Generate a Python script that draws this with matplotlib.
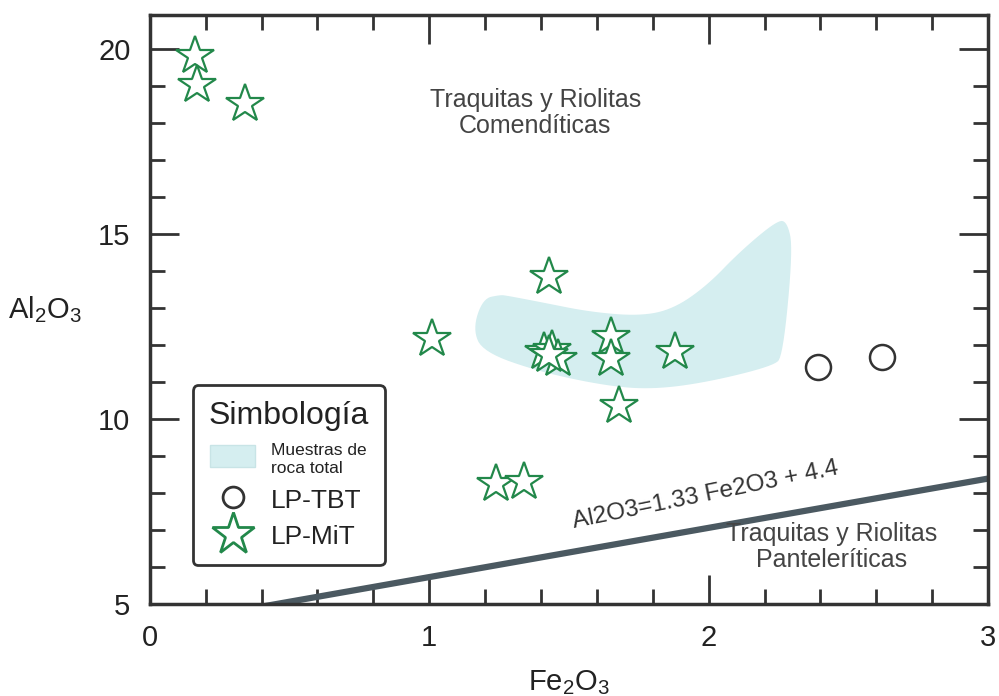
import numpy as np
import matplotlib
matplotlib.use("Agg")
import matplotlib.pyplot as plt
from matplotlib.patches import Patch, Polygon
from matplotlib.lines import Line2D
from matplotlib.ticker import MultipleLocator

plt.rcParams['font.family'] = ['Liberation Sans', 'DejaVu Sans']
plt.rcParams['mathtext.fontset'] = 'custom'
plt.rcParams['mathtext.rm'] = 'Liberation Sans'
plt.rcParams['mathtext.it'] = 'Liberation Sans'

# LP-MiT samples (stars)
mit_fe = [0.16, 0.17, 0.34, 1.01, 1.43, 1.41, 1.44, 1.46, 1.43,
          1.65, 1.65, 1.88, 1.68, 1.24, 1.34]
mit_al = [19.81, 19.02, 18.51, 12.16, 13.84, 11.81, 11.86, 11.62, 11.72,
          12.21, 11.62, 11.80, 10.35, 8.25, 8.31]

# LP-TBT samples (circles)
tbt_fe = [2.39, 2.62]
tbt_al = [11.40, 11.67]

# outline of the whole-rock field
field_fe = [1.156, 1.192, 1.253, 1.278, 1.396, 1.575, 1.754, 1.873, 1.994, 2.112,
            2.245, 2.281, 2.302, 2.266, 2.231, 1.994, 1.801, 1.636, 1.396, 1.192]
field_al = [12.43, 13.25, 13.35, 13.33, 13.16, 12.89, 12.78, 12.97, 13.60, 14.52,
            15.36, 15.33, 14.60, 11.70, 11.43, 10.99, 10.80, 10.89, 11.27, 11.81]

# discrimination line Al2O3 = 1.33 Fe2O3 + 4.4
slope, intercept = 1.33, 4.4

star_green = '#22884a'
dark = '#333333'
field_col = '#d5eef0'


def chaikin(pts, n=3):
    # corner-cutting to round off a closed outline
    for _ in range(n):
        nxt = np.roll(pts, -1, axis=0)
        q = 0.75 * pts + 0.25 * nxt
        r = 0.25 * pts + 0.75 * nxt
        pts = np.empty((2 * len(q), 2))
        pts[0::2] = q
        pts[1::2] = r
    return pts


fig = plt.figure(figsize=(9.99, 6.96), dpi=100)
ax = fig.add_axes([0.150, 0.132, 0.839, 0.846])

outline = chaikin(np.column_stack([field_fe, field_al]))
ax.add_patch(Polygon(outline, closed=True, facecolor=field_col,
                     edgecolor='none', zorder=1))

xl = np.array([0.0, 3.0])
ax.plot(xl, slope * xl + intercept, color='#4b5961', lw=4.5,
        solid_capstyle='butt', zorder=2)

ax.plot(mit_fe, mit_al, ls='none', marker='*', ms=29, mfc='white',
        mec=star_green, mew=1.6, zorder=4)
ax.plot(tbt_fe, tbt_al, ls='none', marker='o', ms=18, mfc='white',
        mec=dark, mew=1.8, zorder=4)

ax.text(1.38, 18.25, 'Traquitas y Riolitas\nComendíticas', ha='center',
        va='center', fontsize=18, color='#444444', linespacing=1.1)
ax.text(2.44, 6.55, 'Traquitas y Riolitas\nPanteleríticas', ha='center',
        va='center', fontsize=18, color='#444444', linespacing=1.1)
ax.text(1.99, 7.95, 'Al2O3=1.33 Fe2O3 + 4.4', ha='center', va='center',
        rotation=11.5, fontsize=17.5, color=dark)

ax.set_xlim(0, 3)
ax.set_ylim(5, 20.9)
ax.xaxis.set_major_locator(MultipleLocator(1))
ax.xaxis.set_minor_locator(MultipleLocator(0.2))
ax.yaxis.set_major_locator(MultipleLocator(5))
ax.yaxis.set_minor_locator(MultipleLocator(1))
ax.tick_params(which='both', direction='in', top=True, right=True,
               color=dark, width=2)
ax.tick_params(which='major', length=21, labelsize=21, labelcolor='#222222', pad=14)
ax.tick_params(which='minor', length=10.5)
for s in ax.spines.values():
    s.set_linewidth(2.5)
    s.set_color(dark)

ax.set_xlabel(r'Fe$_2$O$_3$', fontsize=21, color='#222222', labelpad=12)
ax.set_ylabel(r'Al$_2$O$_3$', fontsize=21, color='#222222', rotation=0,
              labelpad=38, va='center')

handles = [
    Patch(facecolor=field_col, edgecolor='#c8e4e6'),
    Line2D([], [], ls='none', marker='o', ms=15, mfc='white', mec=dark, mew=2),
    Line2D([], [], ls='none', marker='*', ms=32, mfc='white', mec=star_green, mew=2),
]
labels = ['Muestras de\nroca total', 'LP-TBT', 'LP-MiT']
leg = ax.legend(handles, labels, title='Simbología', loc='lower left',
                bbox_to_anchor=(0.051, 0.066), fontsize=19, title_fontsize=23,
                handlelength=1.7, handleheight=0.9, handletextpad=0.6,
                labelspacing=0.45, borderpad=0.6, borderaxespad=0,
                fancybox=True, framealpha=1)
leg.get_frame().set_edgecolor(dark)
leg.get_frame().set_linewidth(2)
leg.get_texts()[0].set_fontsize(12.5)
for t in leg.get_texts():
    t.set_color('#222222')
leg.get_title().set_color('#222222')

fig.savefig('out.png', dpi=100)
